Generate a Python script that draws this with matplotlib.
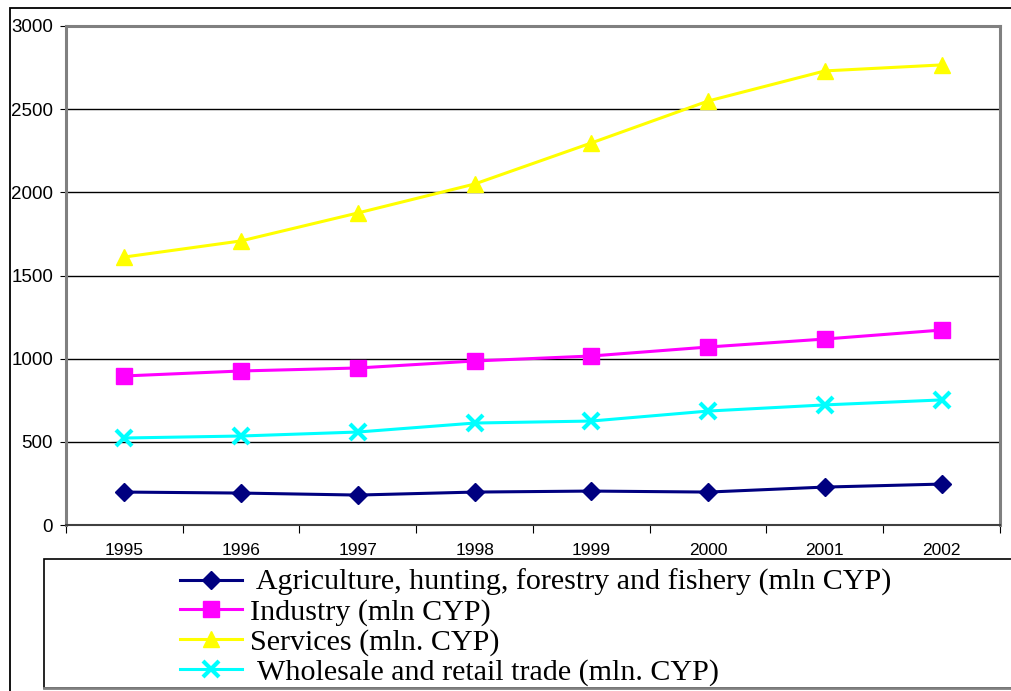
import matplotlib.pyplot as plt
from matplotlib.patches import Rectangle
from matplotlib.lines import Line2D

years = ['1995', '1996', '1997', '1998', '1999', '2000', '2001', '2002']
agriculture = [198, 192, 180, 198, 204, 198, 228, 246]
industry = [896, 926, 944, 986, 1016, 1070, 1118, 1172]
services = [1611, 1708, 1876, 2050, 2297, 2549, 2730, 2766]
wholesale = [523, 535, 559, 613, 625, 685, 722, 752]

W, H = 1012, 691
fig = plt.figure(figsize=(W / 100, H / 100), dpi=100)
fig.patch.set_facecolor('white')

def fx(px):
    return px / W

def fy(py):
    return 1 - py / H

ax = fig.add_axes([fx(66), fy(525), fx(1000) - fx(66), fy(26) - fy(525)])
x = list(range(len(years)))

series = [
    (agriculture, '#000080', 'D', 9.5, ' Agriculture, hunting, forestry and fishery (mln CYP)'),
    (industry, '#FF00FF', 's', 11, 'Industry (mln CYP)'),
    (services, '#FFFF00', '^', 12, 'Services (mln. CYP)'),
    (wholesale, '#00FFFF', 'x', 12, ' Wholesale and retail trade (mln. CYP)'),
]
handles = []
for vals, col, mk, ms, lab in series:
    ax.plot(x, vals, color=col, lw=2.2, marker=mk, ms=ms, mfc=col, mec=col,
            mew=3 if mk == 'x' else 1, zorder=3, clip_on=False)
    handles.append(Line2D([], [], color=col, lw=2.2, marker=mk, ms=ms, mfc=col,
                          mec=col, mew=3 if mk == 'x' else 1))

ax.set_xlim(-0.5, 7.5)
ax.set_ylim(0, 3000)
ax.set_yticks(range(0, 3001, 500))
ax.yaxis.grid(True, color='black', lw=1)
ax.set_axisbelow(True)

# category labels sit between boundary ticks
ax.set_xticks([i + 0.5 for i in range(-1, 8)])
ax.set_xticklabels([])
for i, yr in enumerate(years):
    ax.text(i, -0.052, yr, transform=ax.get_xaxis_transform(), ha='center',
            va='center', fontsize=12.5, family='Liberation Sans')
ax.tick_params(axis='x', length=6, direction='out', color='black')
ax.tick_params(axis='y', length=4.3, direction='out', color='black', labelsize=13.5,
               pad=5)
for t in ax.get_yticklabels():
    t.set_family('Liberation Sans')

for s in ['top', 'right', 'left']:
    ax.spines[s].set_color('#808080')
    ax.spines[s].set_linewidth(2.2)
ax.spines['bottom'].set_color('#404040')
ax.spines['bottom'].set_linewidth(1.5)

# outer frame and legend frame
fig.add_artist(Rectangle((fx(10), fy(700)), fx(1020) - fx(10), fy(8) - fy(700),
                         transform=fig.transFigure, fill=False, ec='black', lw=1.3))
fig.add_artist(Rectangle((fx(44), fy(688)), fx(1020) - fx(44), fy(559) - fy(688),
                         transform=fig.transFigure, fc='white', ec='black', lw=1.2,
                         zorder=5))
fig.add_artist(Line2D([fx(44), fx(1012)], [fy(688), fy(688)], transform=fig.transFigure,
                      color='#808080', lw=2, zorder=6))

leg = fig.legend(handles, [s[4] for s in series], loc='upper left',
                 bbox_to_anchor=(fx(180), fy(569)), frameon=False,
                 prop={'family': 'Liberation Serif', 'size': 21.6},
                 handlelength=2.07, handletextpad=0.27, labelspacing=0.08,
                 borderpad=0, borderaxespad=0)
leg.set_zorder(7)

fig.savefig('out.png', dpi=100, facecolor='white')
